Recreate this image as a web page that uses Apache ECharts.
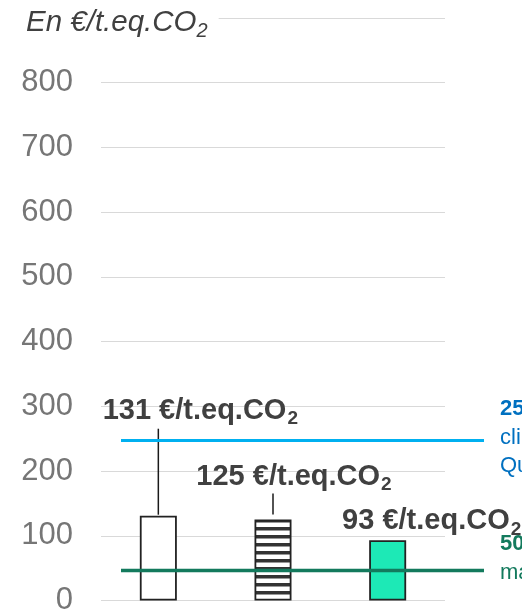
<!DOCTYPE html>
<html>
<head>
<meta charset="utf-8">
<script src="https://cdn.jsdelivr.net/npm/echarts@6/dist/echarts.min.js"></script>
<style>
  html, body { margin: 0; padding: 0; background: #fff; }
  #chart { width: 522px; height: 616px; }
</style>
</head>
<body>
<div id="chart"></div>
<script>
// Carbon cost per option, in €/t.eq.CO2
const categories = ['Option 1', 'Option 2', 'Option 3'];
const costValues = [131, 125, 93];
const unitText = '€/t.eq.CO';

// Reference price levels drawn as horizontal lines
const climateTarget = 250;
const marketPrice = 50;

// Value axis
const yMin = 0;
const yMax = 900;
const yStep = 100;

const FONT = '"Liberation Sans", Arial, Helvetica, sans-serif';
const LABEL_GREY = '#404040';
const BLUE_TEXT = '#0070C0';
const GREEN = '#137A5D';

// Horizontal stripe fill for the middle bar
const stripe = document.createElement('canvas');
stripe.width = 8;
stripe.height = 8;
const sctx = stripe.getContext('2d');
sctx.fillStyle = '#ffffff';
sctx.fillRect(0, 0, 8, 8);
sctx.fillStyle = '#333333';
sctx.fillRect(0, 0, 8, 2.5);
sctx.fillRect(0, 7, 8, 1);

const barFills = ['#ffffff', { image: stripe, repeat: 'repeat' }, '#1DE9B6'];

// Label placement relative to each bar top (px): text offset and leader line span
const labelLayout = [
  { dx: 42, dy: -105, leader: [1, 87] },
  { dx: 21, dy: -43, leader: [5, 26] },
  { dx: 44, dy: -19, leader: null }
];

const subRich = {
  v: { fontFamily: FONT, fontSize: 29, fontWeight: 'bold', fill: LABEL_GREY },
  s: { fontFamily: FONT, fontSize: 19, fontWeight: 'bold', fill: LABEL_GREY, padding: [17, 0, 0, 1] }
};

const chart = echarts.init(document.getElementById('chart'), null, { renderer: 'canvas' });

chart.setOption({
  animation: false,
  backgroundColor: '#ffffff',
  title: {
    text: '{t|En ' + unitText + '}{s|2}',
    left: 24,
    top: 4,
    padding: [0, 11, 0, 2],
    backgroundColor: '#ffffff',
    textStyle: {
      fontWeight: 'normal',
      rich: {
        t: { fontFamily: FONT, fontSize: 29.5, fontStyle: 'italic', fontWeight: 'normal', color: LABEL_GREY },
        s: { fontFamily: FONT, fontSize: 20, fontStyle: 'italic', fontWeight: 'normal', color: LABEL_GREY, padding: [17, 0, 0, 0] }
      }
    }
  },
  grid: [
    { left: 101, right: 77, top: 18, bottom: 13, containLabel: false },
    { left: 121, right: 38, top: 18, bottom: 13, containLabel: false }
  ],
  xAxis: [
    {
      type: 'category', gridIndex: 0, data: categories,
      axisLine: { show: false }, axisTick: { show: false }, axisLabel: { show: false }
    },
    { type: 'value', gridIndex: 1, min: 0, max: 1, show: false }
  ],
  yAxis: [
    {
      type: 'value', gridIndex: 0, min: yMin, max: yMax, interval: yStep,
      axisLine: { show: false }, axisTick: { show: false },
      axisLabel: {
        margin: 28, fontFamily: FONT, fontSize: 31, color: '#767676',
        padding: [5, 0, 0, 0],
        formatter: v => (v === yMax ? '' : String(v))
      },
      splitLine: { lineStyle: { color: '#d9d9d9', width: 1 } }
    },
    { type: 'value', gridIndex: 1, min: yMin, max: yMax, show: false }
  ],
  series: [
    {
      type: 'bar',
      xAxisIndex: 0, yAxisIndex: 0,
      barWidth: 37,
      z: 2,
      data: costValues.map((v, i) => ({
        value: v,
        itemStyle: { color: barFills[i], borderColor: '#222222', borderWidth: 1.8 }
      }))
    },
    {
      type: 'custom',
      xAxisIndex: 0, yAxisIndex: 0,
      z: 3,
      data: costValues.map((v, i) => [i, v]),
      renderItem: function (params, api) {
        const i = params.dataIndex;
        const v = api.value(1);
        const top = api.coord([i, v]);
        const lay = labelLayout[i];
        const children = [];
        if (lay.leader) {
          children.push({
            type: 'line',
            shape: { x1: top[0], y1: top[1] - lay.leader[0], x2: top[0], y2: top[1] - lay.leader[1] },
            style: { stroke: '#1a1a1a', lineWidth: 1.5 }
          });
        }
        children.push({
          type: 'text',
          x: top[0] + lay.dx,
          y: top[1] + lay.dy,
          style: {
            text: '{v|' + v + ' ' + unitText + '}{s|2}',
            rich: subRich,
            align: 'center',
            verticalAlign: 'middle'
          }
        });
        return { type: 'group', children: children };
      }
    },
    {
      type: 'line',
      xAxisIndex: 1, yAxisIndex: 1,
      z: 4,
      symbol: 'none',
      silent: true,
      lineStyle: { color: '#00B0F0', width: 3 },
      data: [[0, climateTarget], [1, climateTarget]]
    },
    {
      type: 'line',
      xAxisIndex: 1, yAxisIndex: 1,
      z: 4,
      symbol: 'none',
      silent: true,
      lineStyle: { color: GREEN, width: 3.5 },
      data: [[0, marketPrice], [1, marketPrice]]
    }
  ],
  graphic: [
    {
      type: 'text',
      left: 500,
      top: 398,
      z: 10,
      style: {
        text: '{b|' + climateTarget + ' ' + unitText + '₂ en 2030 :}\n{n|climat, valeur tutélaire}\n{n|Quinet (2019)}',
        rich: {
          b: { fontFamily: FONT, fontSize: 22, fontWeight: 'bold', fill: BLUE_TEXT, lineHeight: 28.5 },
          n: { fontFamily: FONT, fontSize: 22, fill: BLUE_TEXT, lineHeight: 28.5 }
        }
      }
    },
    {
      type: 'text',
      left: 500,
      top: 533,
      z: 10,
      style: {
        text: '{b|' + marketPrice + ' ' + unitText + '₂ :}\n{n|marché carbone européen}',
        rich: {
          b: { fontFamily: FONT, fontSize: 22, fontWeight: 'bold', fill: GREEN, lineHeight: 29 },
          n: { fontFamily: FONT, fontSize: 22, fill: GREEN, lineHeight: 29 }
        }
      }
    }
  ]
});
</script>
</body>
</html>
